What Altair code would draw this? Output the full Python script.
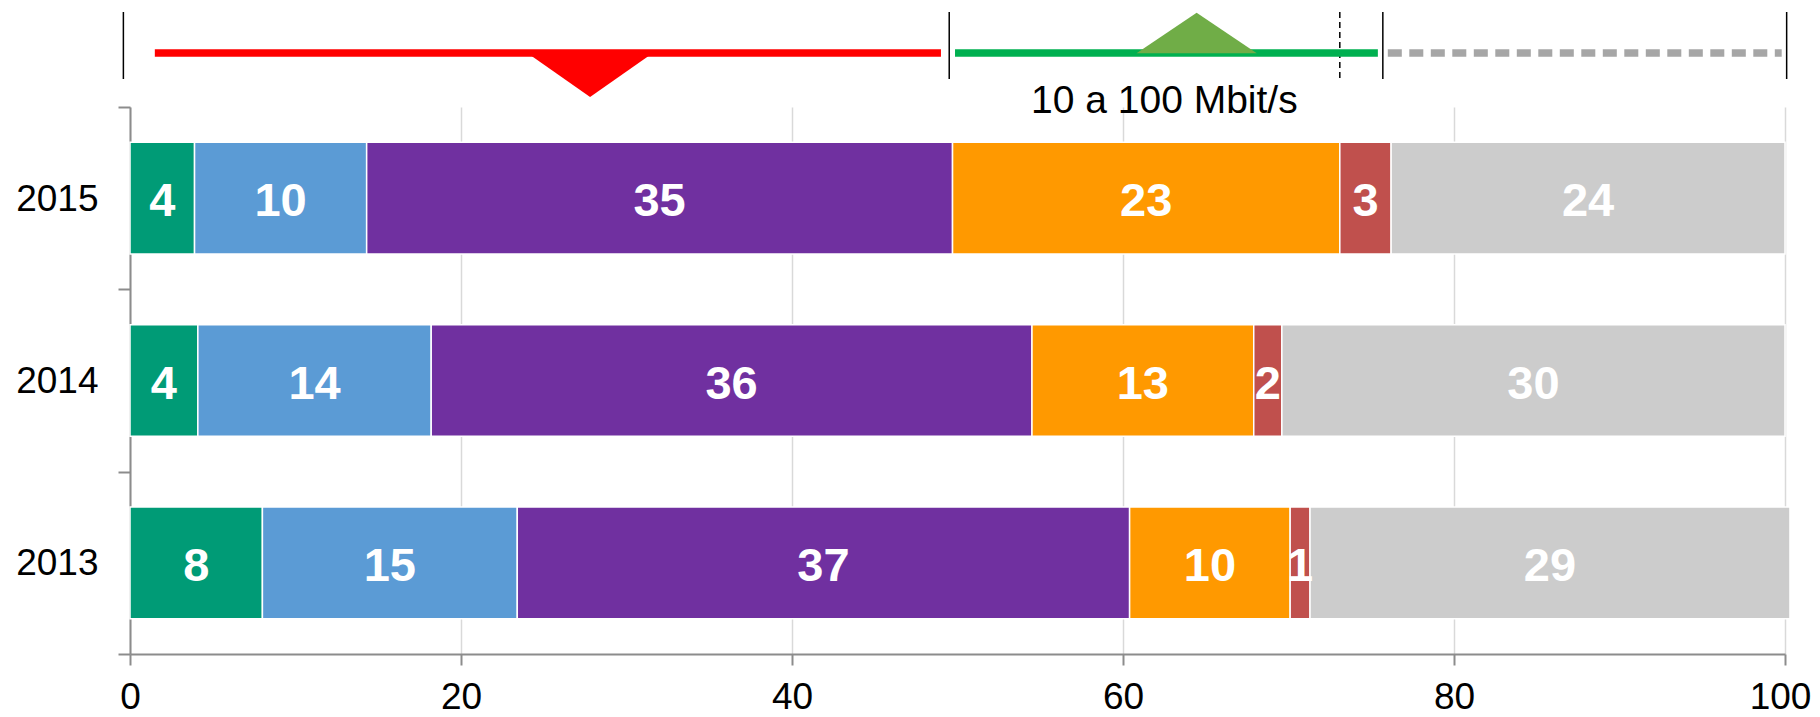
import altair as alt
import pandas as pd

# ---------------- data ----------------
years = ["2015", "2014", "2013"]
series = ["S1", "S2", "S3", "S4", "S5", "S6"]
colors = ["#009B76", "#5B9BD5", "#7030A0", "#FF9900", "#C0504D", "#CCCCCC"]
values_2015 = [3.9, 10.4, 35.4, 23.4, 3.1, 23.8]
values_2014 = [4.1, 14.1, 36.3, 13.4, 1.7, 30.4]
values_2013 = [8.0, 15.4, 37.0, 9.7, 1.2, 29.0]
x_ticks = [0, 20, 40, 60, 80, 100]

# annotation strip above the bars (axis units)
zone_edges = [-0.4, 49.5, 75.7, 100.1]
zone_split = [73.1]
strip_names = ["low", "mid", "high"]
strip_start = [1.5, 49.85, 76.0]
strip_end = [49.0, 75.4, 99.8]
marker_down = [27.8]
marker_up = [64.45]
note_text = ["10 a 100 Mbit/s"]
note_pos = [62.5]

FONT = "Liberation Sans"
AXIS_GRAY = "#8C8C8C"

rows = []
for yr, vals in zip(years, [values_2015, values_2014, values_2013]):
    for i, (s, v) in enumerate(zip(series, vals)):
        rows.append({"year": yr, "series": s, "order": i, "value": v})
df = pd.DataFrame(rows)

x_scale = alt.Scale(domain=[0, 100], nice=False, zero=False)

base = (
    alt.Chart(df)
    .transform_stack(
        stack="value",
        groupby=["year"],
        as_=["x0", "x1"],
        sort=[alt.SortField("order", order="ascending")],
    )
    .transform_calculate(mid="(datum.x0 + datum.x1) / 2")
)

bars = base.mark_bar(stroke="white", strokeWidth=1.5, height={"band": 0.612}).encode(
    x=alt.X(
        "x0:Q",
        title=None,
        scale=x_scale,
        axis=alt.Axis(
            values=x_ticks,
            format="d",
            labelFont=FONT,
            labelFontSize=37,
            labelColor="black",
            labelFlush=False,
            labelOverlap=False,
            labelPadding=14,
            labelOffset={"condition": {"test": "datum.value === 100", "value": -5}, "value": 0},
            tickSize=11,
            tickColor=AXIS_GRAY,
            tickWidth=2,
            domainColor=AXIS_GRAY,
            domainWidth=2,
            grid=True,
            gridColor="#D9D9D9",
            gridWidth=1.5,
        ),
    ),
    x2="x1:Q",
    y=alt.Y(
        "year:N",
        title=None,
        sort=years,
        scale=alt.Scale(domain=years, paddingInner=0, paddingOuter=0),
        axis=alt.Axis(
            labelFont=FONT,
            labelFontSize=37,
            labelColor="black",
            labelPadding=20,
            labelOffset=1,
            tickSize=12,
            tickColor=AXIS_GRAY,
            tickWidth=2,
            tickBand="extent",
            domainColor=AXIS_GRAY,
            domainWidth=2,
            grid=False,
        ),
    ),
    color=alt.Color("series:N", scale=alt.Scale(domain=series, range=colors), legend=None),
)

labels = base.mark_text(
    font=FONT, fontWeight="bold", fontSize=47, color="white", dy=4
).encode(
    x=alt.X("mid:Q", title=None),
    y=alt.Y("year:N", sort=years),
    text=alt.Text("value:Q", format=".0f"),
)

edges = alt.Chart(pd.DataFrame({"pos": zone_edges})).mark_rule(
    color="black", strokeWidth=1.5
).encode(x=alt.X("pos:Q", title=None), y=alt.value(-95), y2=alt.value(-28))

split = alt.Chart(pd.DataFrame({"pos": zone_split})).mark_rule(
    color="black", strokeWidth=1.5, strokeDash=[6, 4]
).encode(x=alt.X("pos:Q", title=None), y=alt.value(-95), y2=alt.value(-28))

strip_df = pd.DataFrame({"name": strip_names, "start": strip_start, "end": strip_end})


def strip(name, color, dash=None):
    kw = dict(color=color, strokeWidth=7.7)
    if dash is not None:
        kw["strokeDash"] = dash
    return (
        alt.Chart(strip_df)
        .transform_filter(alt.datum.name == name)
        .mark_rule(**kw)
        .encode(x=alt.X("start:Q", title=None), x2="end:Q", y=alt.value(-54))
    )


strip_low = strip("low", "#FF0000")
strip_mid = strip("mid", "#00B050")
strip_high = strip("high", "#A6A6A6", [14, 7.5])

tri_down = alt.Chart(pd.DataFrame({"pos": marker_down})).mark_point(
    shape="M-1,-0.36L1,-0.36L0,0.34Z",
    filled=True,
    opacity=1,
    color="#FF0000",
    size=13853,
    strokeWidth=0,
).encode(x=alt.X("pos:Q", title=None), y=alt.value(-30))

tri_up = alt.Chart(pd.DataFrame({"pos": marker_up})).mark_point(
    shape="M-1,0.336L1,0.336L0,-0.336Z",
    filled=True,
    opacity=1,
    color="#70AD47",
    size=14472,
    strokeWidth=0,
).encode(x=alt.X("pos:Q", title=None), y=alt.value(-74))

note = alt.Chart(pd.DataFrame({"pos": note_pos, "text": note_text})).mark_text(
    font=FONT, fontSize=39, color="black", align="center", baseline="alphabetic"
).encode(x=alt.X("pos:Q", title=None), y=alt.value(6.3), text="text:N")

chart = (
    alt.layer(bars, labels, edges, split, strip_low, strip_mid, strip_high, tri_down, tri_up, note)
    .properties(
        width=1655,
        height=547,
        autosize="none",
        padding={"left": 122, "top": 99, "right": 27, "bottom": 55},
    )
    .configure_view(stroke="transparent")
)

chart.save("out.html", embed_options={"renderer": "svg", "actions": False})
